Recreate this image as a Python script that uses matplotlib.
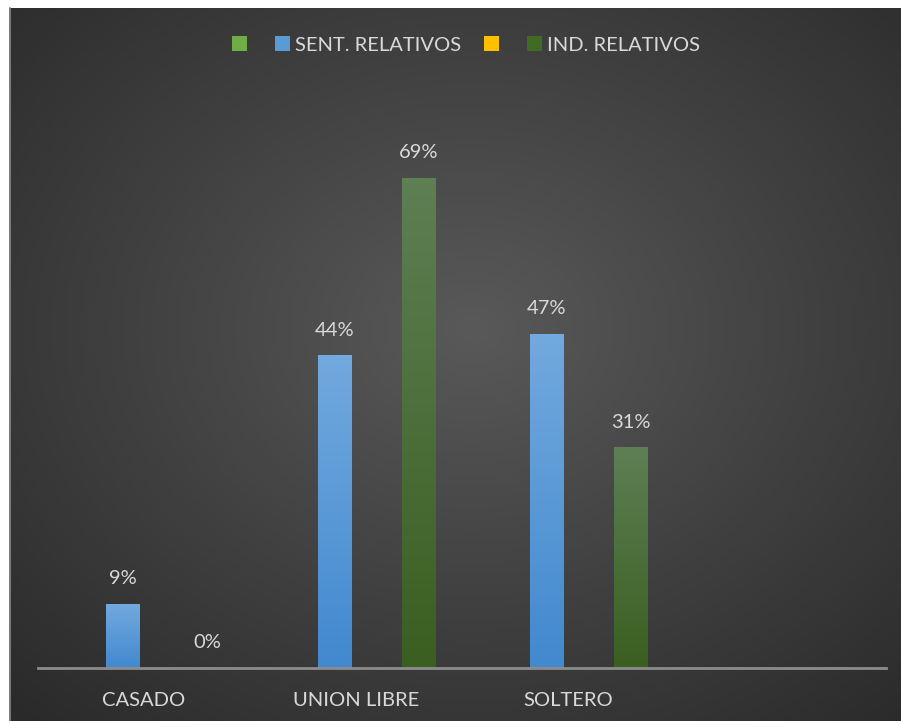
import numpy as np
import matplotlib
matplotlib.use("Agg")
import matplotlib.pyplot as plt
from matplotlib.colors import LinearSegmentedColormap
from matplotlib.patches import Patch
from matplotlib.lines import Line2D

plt.rcParams['font.family'] = ['Lato', 'DejaVu Sans']

# datos
categorias = ["CASADO", "UNION LIBRE", "SOLTERO", ""]
series = ["", "SENT. RELATIVOS", "", "IND. RELATIVOS"]
serie_vacia_1 = [None, None, None, None]
sent_relativos = [0.09, 0.44, 0.47, None]
serie_vacia_2 = [None, None, None, None]
ind_relativos = [0.00, 0.69, 0.31, None]
valores = [serie_vacia_1, sent_relativos, serie_vacia_2, ind_relativos]

colores_leyenda = ["#70ad47", "#5b9bd5", "#ffc000", "#3f6b25"]
gradientes = [None, ("#72a9de", "#4289cf"), None, ("#5d7f54", "#3a5f20")]

W, H = 901, 721
fig = plt.figure(figsize=(W / 100, H / 100), dpi=100)
fig.patch.set_facecolor("white")

# fondo con degradado radial
bg = fig.add_axes([9 / W, 0, (W - 9) / W, (H - 8) / H])
yy, xx = np.mgrid[0:1:400j, 0:1:500j]
d = np.sqrt(((xx - 0.52) / 0.75) ** 2 + ((yy - 0.55) / 0.75) ** 2)
d = np.clip(d, 0, 1)
cmap_bg = LinearSegmentedColormap.from_list("bg", ["#595959", "#414141", "#2a2a2a"])
bg.imshow(d, cmap=cmap_bg, aspect="auto", extent=[0, 1, 0, 1], origin="lower")
bg.set_axis_off()
fig.add_artist(Line2D([9.5 / W, 9.5 / W], [0, (H - 8) / H], color="#8a8a8a", lw=1.2))

ax = fig.add_axes([38 / W, 53 / H, 848 / W, 568 / H])
ax.set_facecolor("none")

paso = 0.198
ancho = 0.16
x = np.arange(len(categorias))
for i, vals in enumerate(valores):
    off = (i - 1.5) * paso
    for j, v in enumerate(vals):
        if v is None:
            continue
        x0 = x[j] + off - ancho / 2
        if v > 0:
            cm = LinearSegmentedColormap.from_list("g%d" % i, [gradientes[i][1], gradientes[i][0]])
            grad = np.linspace(0, 1, 100).reshape(-1, 1)
            ax.imshow(grad, cmap=cm, aspect="auto", origin="lower",
                      extent=[x0, x0 + ancho, 0, v], zorder=2)
        ax.text(x[j] + off, v + 0.024, "{:.0%}".format(v), ha="center", va="bottom",
                color="#d9d9d9", fontsize=14.5)
ax.set_xlim(-0.5, len(categorias) - 0.5)
ax.set_ylim(0, 0.8)

for s in ["top", "right", "left"]:
    ax.spines[s].set_visible(False)
ax.spines["bottom"].set_color("#8c8c8c")
ax.spines["bottom"].set_linewidth(2)
ax.set_yticks([])
ax.set_xticks(x)
ax.set_xticklabels(categorias, color="#d9d9d9", fontsize=14.5)
ax.tick_params(axis="x", length=0, pad=17)

handles = [Patch(facecolor=c, edgecolor="none") for c in colores_leyenda]
fig.legend(handles, series, loc="center", bbox_to_anchor=(466 / W, 1 - 45 / H), ncol=4,
           frameon=False, fontsize=14.5, labelcolor="#d9d9d9", handlelength=0.78,
           handleheight=0.78, handletextpad=0.25, columnspacing=1.1)

fig.savefig("out.png", dpi=100, facecolor=fig.get_facecolor())
